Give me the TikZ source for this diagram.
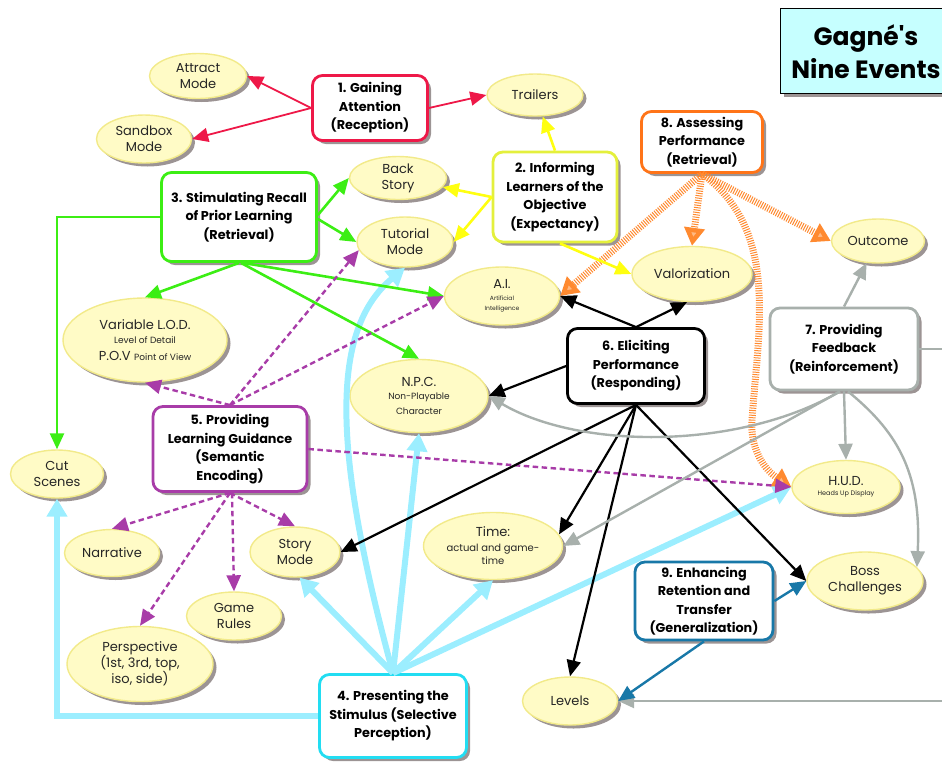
\documentclass[tikz,border=0pt]{standalone}
\usepackage{fontspec}
\setmainfont{PT Sans}
\newfontfamily\geo{Poppins}
\usetikzlibrary{arrows.meta,shapes.geometric,shadows,calc}
\definecolor{cRed}{HTML}{EE1848}
\definecolor{cYelBox}{HTML}{E4F03C}
\definecolor{cYel}{HTML}{FFFF10}
\definecolor{cGreen}{HTML}{3CEE14}
\definecolor{cCyanBox}{HTML}{22DDF2}
\definecolor{cCyan}{HTML}{9CEEFF}
\definecolor{cPurple}{HTML}{A83CA8}
\definecolor{cGray}{HTML}{A8B0AC}
\definecolor{cOrangeBox}{HTML}{FF7418}
\definecolor{cOrange}{HTML}{FF8A30}
\definecolor{cBlue}{HTML}{1878A8}
\definecolor{ellFill}{HTML}{FFFBC6}
\definecolor{ellDraw}{HTML}{F2EA8A}
\definecolor{shadowC}{HTML}{9C9494}
\definecolor{titleFill}{HTML}{C6FFFF}
\tikzset{
  shadowed/.style={drop shadow={shadow xshift=3.5pt,shadow yshift=-3.5pt,fill=shadowC,opacity=1}},
  evbox/.style={draw=#1, line width=2.8pt, rounded corners=10pt, fill=white, shadowed, align=center, inner sep=1pt, font=\geo\bfseries\fontsize{12.8}{18.5}\selectfont},
  ellshape/.style={ellipse, draw=ellDraw, line width=1.4pt, fill=ellFill, shadowed, inner sep=0pt},
  elltext/.style={align=center, inner sep=0pt, text=black!85, font=\geo\fontsize{13}{16}\selectfont},
  conn/.style={line width=2.2pt, -{Triangle[length=16pt,width=14pt]}},
  redA/.style={conn, draw=cRed, line width=1.8pt},
  yelA/.style={conn, draw=cYel, line width=2.6pt},
  grnA/.style={conn, draw=cGreen, line width=2.6pt},
  purA/.style={conn, draw=cPurple, line width=2.4pt, dash pattern=on 5.5pt off 3.5pt},
  blkA/.style={conn, draw=black, line width=2.2pt},
  gryA/.style={conn, draw=cGray, line width=2.4pt},
  gryL/.style={draw=cGray, line width=2.4pt},
  bluA/.style={conn, draw=cBlue, line width=2.4pt},
  cyA/.style={draw=cCyan, line width=6pt, -{Triangle[length=18pt,width=20pt]}},
  orA/.style={draw=cOrange, line width=7pt, dash pattern=on 1pt off 1.4pt, -{Triangle[length=18pt,width=20pt,fill=cOrange!60]}},
}
\newcommand\ellipsenode[5]{%
  \node[ellshape, minimum width=#3pt, minimum height=#4pt] (#1) at (#2) {};
  \node[elltext] (#1txt) at (#1) {#5};}
\begin{document}
\begin{tikzpicture}[x=1pt,y=-1pt]
\useasboundingbox (0,0) rectangle (942,764);
% title
\node[draw=black, line width=1.3pt, fill=titleFill, shadowed, minimum width=200pt, minimum height=85pt, anchor=north west, inner sep=0pt] (titlebox) at (780,8) {};
\node[font=\geo\bfseries\fontsize{25}{33}\selectfont, align=center] (title) at (866,52) {Gagné's\\Nine Events};
% event boxes
\node[evbox=cRed, minimum width=115pt, minimum height=65pt] (b1) at (370,108) {1. Gaining\\Attention\\(Reception)};
\node[evbox=cYelBox, minimum width=124pt, minimum height=90pt] (b2) at (555,197) {2. Informing\\Learners of the\\Objective\\(Expectancy)};
\node[evbox=cGreen, minimum width=155pt, minimum height=89pt] (b3) at (239,217) {3. Stimulating Recall\\of Prior Learning\\(Retrieval)};
\node[evbox=cCyanBox, minimum width=147pt, minimum height=83pt] (b4) at (393,716) {4. Presenting the\\Stimulus (Selective\\Perception)};
\node[evbox=cPurple, minimum width=154pt, minimum height=85pt] (b5) at (230,449) {5. Providing\\Learning Guidance\\(Semantic\\Encoding)};
\node[evbox=black, minimum width=137pt, minimum height=75pt] (b6) at (636,366) {6. Eliciting\\Performance\\(Responding)};
\node[evbox=cGray, minimum width=148pt, minimum height=82pt] (b7) at (844,349) {7. Providing\\Feedback\\(Reinforcement)};
\node[evbox=cOrangeBox, minimum width=121pt, minimum height=61pt] (b8) at (702,142) {8. Assessing\\Performance\\(Retrieval)};
\node[evbox=cBlue, minimum width=138pt, minimum height=78pt] (b9) at (704,601) {9. Enhancing\\Retention and\\Transfer\\(Generalization)};
% ellipses
\ellipsenode{attract}{198,76}{97}{45}{Attract\\Mode}
\ellipsenode{sandbox}{144,139}{95}{48}{Sandbox\\Mode}
\ellipsenode{trailers}{535,95}{96}{42}{Trailers}
\ellipsenode{backstory}{398,178}{97}{43}{Back\\Story}
\ellipsenode{tutorial}{405,242}{96}{50}{Tutorial\\Mode}
\ellipsenode{ai}{502,296}{115}{58}{A.I.\\[-4pt]\fontsize{6}{7}\selectfont Artificial\\[-6pt]\fontsize{6}{7}\selectfont Intelligence}
\ellipsenode{valor}{692,274}{120}{55}{Valorization}
\ellipsenode{outcome}{878,241}{93}{44}{Outcome}
\ellipsenode{lod}{145,340}{164}{84}{Variable L.O.D.\\[-2pt]\fontsize{9}{11}\selectfont Level of Detail\\[1pt]P.O.V {\fontsize{9}{11}\selectfont Point of View}}
\ellipsenode{npc}{419,396}{138}{73}{N.P.C.\\[-3pt]\fontsize{9}{11}\selectfont Non-Playable\\[-1pt]\fontsize{9}{11}\selectfont Character}
\ellipsenode{cut}{57,474}{93}{48}{Cut\\Scenes}
\ellipsenode{hud}{846,487}{108}{53}{H.U.D.\\[-6pt]\fontsize{6.5}{8}\selectfont Heads Up Display}
\ellipsenode{narrative}{112,553}{95}{47}{Narrative}
\ellipsenode{story}{295,552}{90}{50}{Story\\Mode}
\ellipsenode{rules}{234,616}{95}{48}{Game\\Rules}
\ellipsenode{persp}{140,664}{146}{75}{Perspective\\(1st, 3rd, top,\\iso, side)}
\ellipsenode{time}{493,546}{139}{67}{Time:\\[-1pt]\fontsize{10}{12}\selectfont actual and game-\\[-3pt]\fontsize{10}{12}\selectfont time}
\ellipsenode{levels}{570,701}{95}{48}{Levels}
\ellipsenode{boss}{865,581}{116}{58}{Boss\\Challenges}
% off-picture ends
\coordinate (edgeR1) at (960,349);
\coordinate (edgeR2) at (960,701);
% cyan (4)
\draw[cyA] (b4.west) -| (cut.south);
\draw[cyA] (b4.north) -- (story.-80);
\draw[cyA] (b4.north) .. controls (332,450) and (330,330) .. (tutorial.south);
\draw[cyA] (b4.north) -- (npc.south);
\draw[cyA] (b4.north) -- (time.south);
\draw[cyA] (b4.north) -- (hud.west);
% orange (8)
\draw[orA] (b8.south) -- (ai.east);
\draw[orA] (b8.south) -- (valor.north);
\draw[orA] (b8.south) -- (outcome.west);
\draw[orA] (b8.south) .. controls (780,230) and (758,330) .. (752,420) .. controls (750,450) and (765,470) .. (hud.west);
% red (1)
\draw[redA] (b1.west) -- (attract.east);
\draw[redA] (b1.west) -- (sandbox.east);
\draw[redA] (b1.east) -- (trailers.west);
% yellow (2)
\draw[yelA] (b2.north) -- (trailers);
\draw[yelA] (b2.west) -- (backstory);
\draw[yelA] (b2.west) -- (tutorial.east);
\draw[yelA] ([xshift=5pt]b2.south) -- (valor.west);
% green (3)
\draw[grnA] ([yshift=2pt]b3.east) -- (backstory.west);
\draw[grnA] ([yshift=-2pt]b3.east) -- (tutorial.west);
\draw[grnA] (b3.west) -| (cut.north);
\draw[grnA] (b3.south) -- (lod.north);
\draw[grnA] ([xshift=4pt]b3.south) -- (ai.west);
\draw[grnA] ([xshift=2pt]b3.south) -- (npc.north);
% purple (5)
\draw[purA] (b5.north) -- (tutorial.190);
\draw[purA] (b5.north) -- (ai.west);
\draw[purA] (b5.north) -- (lod.south);
\draw[purA] (b5.east) -- (hud.west);
\draw[purA] (b5.south) -- (narrative.north);
\draw[purA] (b5.south) -- (persp.north);
\draw[purA] ([xshift=2pt]b5.south) -- (rules.north);
\draw[purA] (b5.south) -- (story.north);
% black (6)
\draw[blkA] (b6.north) -- (ai.east);
\draw[blkA] (b6.north) -- (valor.260);
\draw[blkA] (b6.west) -- (npc.east);
\draw[blkA] (b6.south) -- (story.east);
\draw[blkA] (b6.south) -- (time.10);
\draw[blkA] (b6.south) -- (levels.north);
\draw[blkA] (b6.south) -- (boss.west);
% gray (7)
\draw[gryA] (b7.north) -- (outcome);
\draw[gryA] (b7.south) -- (hud.north);
\draw[gryA] ([xshift=-4pt]b7.south) .. controls (740,450) and (580,450) .. (npc.east);
\draw[gryA] ([xshift=-4pt]b7.south) -- (time.east);
\draw[gryA] ([xshift=4pt]b7.south) .. controls (895,430) and (922,470) .. (boss.15);
\draw[gryL] (b7.east) -- (edgeR1);
\draw[gryA] (edgeR2) -- (levels.east);
% blue (9)
\draw[bluA] (b9.east) -- (boss.west);
\draw[bluA] (b9.south) -- (levels.east);
\end{tikzpicture}
\end{document}
